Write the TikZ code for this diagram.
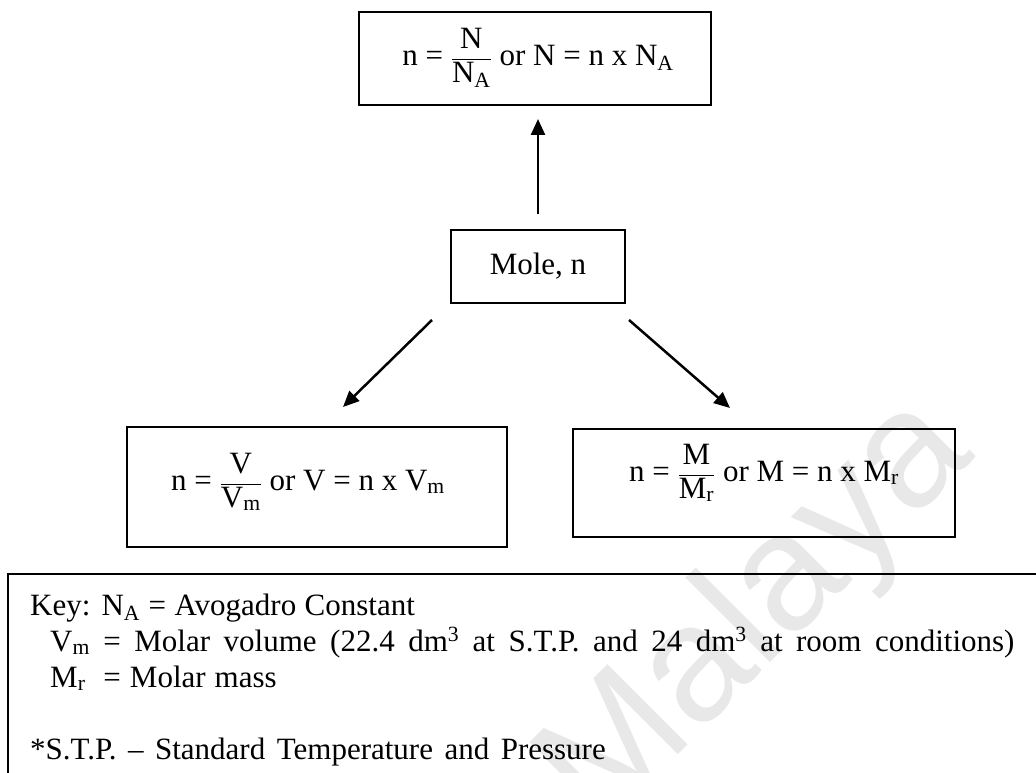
\documentclass[tikz,border=0pt]{standalone}
\usepackage{fontspec}
\setmainfont{Liberation Serif}
\newfontfamily\wmfont{Liberation Sans}
\usetikzlibrary{arrows.meta,calc}

\begin{document}
\begin{tikzpicture}[x=1pt,y=-1pt,
  box/.style={draw,line width=2pt,rectangle,inner sep=0pt},
  arr/.style={line width=2.5pt,-{Triangle[length=16pt,width=14pt]}},
  txt/.style={font=\fontsize{31}{36}\selectfont,inner sep=0pt},
  keyline/.style={txt,anchor=base west}]
\useasboundingbox (0,0) rectangle (1036,773);

% faint watermark behind everything
\node[rotate=45, text=black!9, font=\wmfont\fontsize{165}{165}\selectfont] (wm) at (758,614) {Malaya};

% formula boxes
\node[box, minimum width=352pt, minimum height=93pt] (nbox) at (535,58.5) {};
\node[txt] (ntext) at (538,58) {n = $\displaystyle\frac{\mathrm{N}}{\mathrm{N_A}}$ or N = n x N\textsubscript{A}};
\node[box, minimum width=174pt, minimum height=73pt] (mole) at (538,266.5) {};
\node[txt] (moletext) at (mole.center) {Mole, n};
\node[box, minimum width=380pt, minimum height=120pt] (vbox) at (317,487) {};
\node[txt] (vtext) at (308,482) {n = $\displaystyle\frac{\mathrm{V}}{\mathrm{V_m}}$ or V = n x V\textsubscript{m}};
\node[box, minimum width=382pt, minimum height=108pt] (mbox) at (764,483) {};
\node[txt] (mtext) at (764,473) {n = $\displaystyle\frac{\mathrm{M}}{\mathrm{M_r}}$ or M = n x M\textsubscript{r}};

% arrows from the mole box
\draw[arr] ($(mole.north)+(0,-15)$) -- ($(nbox.south)+(3,13)$);
\draw[arr] ($(mole.south west)+(-18,16)$) -- ($(vbox.north)+(26,-19)$);
\draw[arr] ($(mole.south east)+(3,16)$) -- ($(mbox.north)+(-34,-20)$);

% key panel
\draw[line width=2pt] (8,800) -- (8,574) -- (1050,574);
\node[keyline] (k1) at (30,615) {\spaceskip=8.5pt Key: N\textsubscript{A} = Avogadro Constant};
\node[keyline] (k2) at (50,651) {\spaceskip=13.5pt V\textsubscript{m} = Molar volume (22.4 dm\textsuperscript{3} at S.T.P. and 24 dm\textsuperscript{3} at room conditions)};
\node[keyline] (k3) at (50,687) {\spaceskip=9pt M\textsubscript{r} \ = Molar mass};
\node[keyline] (k4) at (30,759) {\spaceskip=11.5pt *S.T.P. -- Standard Temperature and Pressure};
\end{tikzpicture}
\end{document}
